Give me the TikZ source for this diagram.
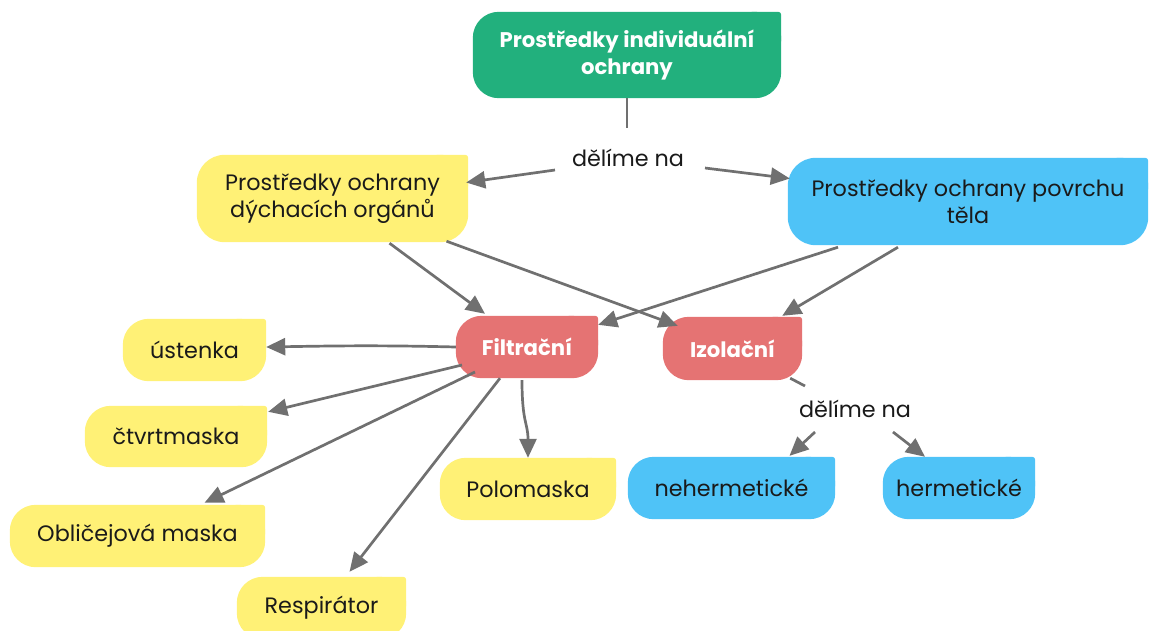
\documentclass[tikz,border=0pt]{standalone}
\usepackage{fontspec}
\setmainfont{Poppins}
\usetikzlibrary{arrows.meta,calc,backgrounds}

\definecolor{cgreen}{HTML}{22B07D}
\definecolor{cyellow}{HTML}{FFF176}
\definecolor{cblue}{HTML}{4FC3F7}
\definecolor{cred}{HTML}{E57373}
\definecolor{cline}{HTML}{707070}
\definecolor{ctext}{HTML}{1A1A1A}

\tikzset{
  box/.style={inner sep=0pt, align=center, text=ctext,
    font=\fontsize{22.3}{27}\selectfont},
  title/.style={box, text=white, font=\fontsize{21.2}{27}\selectfont\bfseries},
  lbl/.style={inner sep=0pt, text=ctext, font=\fontsize{22.3}{26}\selectfont},
  link/.style={draw=cline, line width=2.7pt, -{Triangle[length=19pt,width=17pt]}},
  plain/.style={draw=cline, line width=2.7pt},
}

% fill behind a node: large rounded corners, small one at the top right
\newcommand{\blobfill}[3]{%
  \fill[#2, rounded corners=#3pt] (#1.south west) rectangle (#1.north east);
  \fill[#2, rounded corners=3pt] ($(#1.north east)+(-#3-6,0)$) rectangle ($(#1.north east)+(0,#3+6)$);
}

\begin{document}
\begin{tikzpicture}[x=1pt, y=-1pt]
\useasboundingbox (0,0) rectangle (1149,630);

% nodes
\node[title, minimum width=308pt, minimum height=86pt] (root) at (627,55) {Prostředky individuální\\ochrany};
\node[lbl] (split1) at (628,158) {dělíme na};
\node[box, minimum width=271pt, minimum height=87pt] (resp) at (332.5,198.5) {Prostředky ochrany\\dýchacích orgánů};
\node[box, minimum width=360pt, minimum height=87pt] (surf) at (968,201.5) {Prostředky ochrany povrchu\\těla};
\node[title, minimum width=142pt, minimum height=62pt] (filt) at (527,347) {Filtrační};
\node[title, minimum width=139pt, minimum height=63pt] (izol) at (732.5,348.5) {Izolační};
\node[box, minimum width=143pt, minimum height=62pt] (ust) at (194.5,350) {ústenka};
\node[box, minimum width=182pt, minimum height=61pt] (ctvrt) at (176,436.5) {čtvrtmaska};
\node[box, minimum width=255pt, minimum height=62pt] (oblic) at (137.5,536) {Obličejová maska};
\node[box, minimum width=169pt, minimum height=62pt] (respir) at (321.5,608) {Respirátor};
\node[box, minimum width=176pt, minimum height=62pt] (polo) at (528,489) {Polomaska};
\node[lbl] (split2) at (855,409) {dělíme na};
\node[box, minimum width=207pt, minimum height=62pt] (neher) at (731.5,488) {nehermetické};
\node[box, minimum width=152pt, minimum height=62pt] (herm) at (959,488) {hermetické};

% box fills
\begin{scope}[on background layer]
  \blobfill{root}{cgreen}{26}
  \blobfill{resp}{cyellow}{28}
  \blobfill{surf}{cblue}{28}
  \blobfill{filt}{cred}{26}
  \blobfill{izol}{cred}{26}
  \blobfill{ust}{cyellow}{26}
  \blobfill{ctvrt}{cyellow}{26}
  \blobfill{oblic}{cyellow}{26}
  \blobfill{respir}{cyellow}{26}
  \blobfill{polo}{cyellow}{26}
  \blobfill{neher}{cblue}{26}
  \blobfill{herm}{cblue}{26}
\end{scope}

% connectors
\draw[plain] (root.south) -- ($(split1)+(-1,-30)$);
\draw[link] ($(split1)+(-73,12)$) -- ($(resp.east)+(-2,-16)$);
\draw[link] ($(split1)+(77,10)$) -- ($(surf.west)+(2,-23)$);

\draw[link] ($(resp.south)+(57,1)$) -- ($(filt.north)+(-42,-2)$);
\draw[link] ($(resp.south)+(114,-1)$) -- ($(izol.north west)+(15,9)$);
\draw[link] ($(surf.south)+(-130,2)$) -- ($(filt.north east)+(0,9)$);
\draw[link] ($(surf.south)+(-70,2)$) -- ($(izol.north east)+(-20,-1)$);

\draw[plain] ($(izol.south east)+(-12,-2)$) -- ($(split2)+(-50,-23)$);
\draw[link] ($(split2)+(-40,23)$) -- ($(neher.north)+(58,-1)$);
\draw[link] ($(split2)+(38,23)$) -- ($(herm.north)+(-34,0)$);

\draw[link] (filt.west) .. controls ($(filt.west)+(-80,-2)$) and ($(ust.east)+(60,-4)$) .. ($(ust.east)+(0,-3)$);
\draw[link] ($(filt)+(-65,18)$) -- ($(ctvrt.north east)+(1,6)$);
\draw[link] ($(filt)+(-52,25)$) -- ($(oblic.north)+(67,-2)$);
\draw[link] ($(filt.south)+(-27,0)$) -- ($(respir.north)+(28,-5)$);
\draw[link] ($(filt.south)+(-5,2)$) .. controls ($(filt.south)+(-5,45)$) and ($(polo.north)+(0,-35)$) .. (polo.north);
\end{tikzpicture}
\end{document}
